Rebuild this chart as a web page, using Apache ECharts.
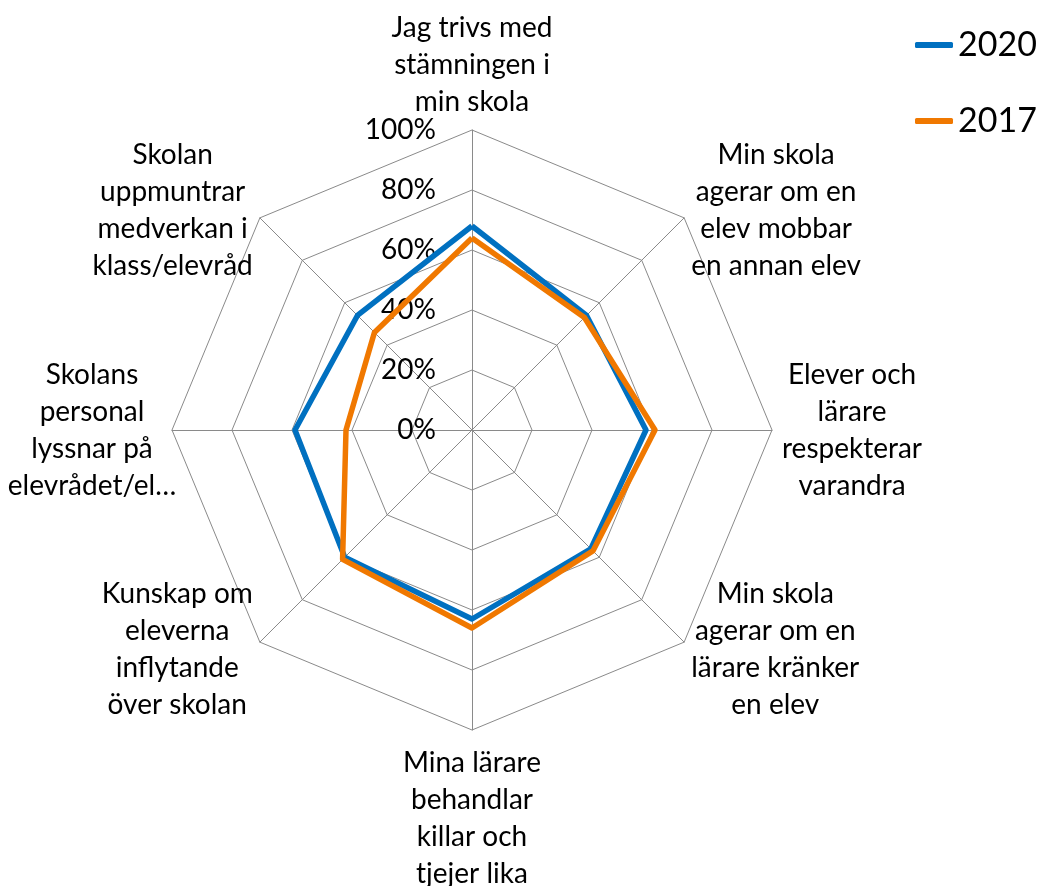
<!DOCTYPE html>
<html>
<head>
<meta charset="utf-8">
<script src="https://cdn.jsdelivr.net/npm/echarts@6/dist/echarts.min.js"></script>
<style>
html,body{margin:0;padding:0;background:#fff;}
#chart{width:1038px;height:886px;}
</style>
</head>
<body>
<div id="chart"></div>
<script>
// Categories in clockwise order starting at the top
const categories = [
  "Jag trivs med\nstämningen i\nmin skola",
  "Min skola\nagerar om en\nelev mobbar\nen annan elev",
  "Elever och\nlärare\nrespekterar\nvarandra",
  "Min skola\nagerar om en\nlärare kränker\nen elev",
  "Mina lärare\nbehandlar\nkillar och\ntjejer lika",
  "Kunskap om\neleverna\ninflytande\növer skolan",
  "Skolans\npersonal\nlyssnar på\nelevrådet/el…",
  "Skolan\nuppmuntrar\nmedverkan i\nklass/elevråd"
];
const seriesNames = ["2020", "2017"];
const values2020 = [68, 54, 58, 56, 63, 60, 59, 54];
const values2017 = [64, 53, 61, 57, 66, 61, 42, 46];
const axisMax = 100;

// ECharts radar places indicators counter-clockwise; reorder to clockwise layout
const order = categories.map((_, i) => (categories.length - i) % categories.length);
const reorder = arr => order.map(i => arr[i]);

const FONT = 'Lato';
const chart = echarts.init(document.getElementById('chart'));
const indicator = reorder(categories).map((name, i) => {
  const ind = { name: name, max: axisMax, min: 0 };
  if (i === 0) {
    ind.axisLabel = {
      show: true,
      formatter: '{value}%',
      color: '#000',
      fontFamily: FONT,
      fontSize: 28,
      margin: 36
    };
  }
  return ind;
});

const nameBase = { align: 'center', fontFamily: FONT, fontSize: 28, lineHeight: 37, color: '#000' };

chart.setOption({
  animation: false,
  backgroundColor: '#fff',
  legend: {
    orient: 'vertical',
    left: 910,
    top: 20,
    itemWidth: 38,
    itemHeight: 6,
    itemGap: 36,
    icon: 'roundRect',
    textStyle: { fontFamily: FONT, fontSize: 34, color: '#000', lineHeight: 40 },
    data: seriesNames
  },
  radar: {
    center: [472, 430],
    radius: 300,
    startAngle: 90,
    splitNumber: 5,
    shape: 'polygon',
    nameGap: 10,
    axisName: {
      color: '#000',
      fontFamily: FONT,
      fontSize: 28,
      formatter: function (name) {
        const idx = categories.indexOf(name);
        let tag = 'c';
        if (idx === 4) tag = 'b';       // bottom label sits a little lower
        else if (idx === 6) tag = 'l';  // left label hugs the axis end
        return name.split('\n').map(l => '{' + tag + '|' + l + '}').join('\n');
      },
      rich: {
        c: nameBase,
        b: Object.assign({}, nameBase, { padding: [8, 0, 0, 0] }),
        l: Object.assign({}, nameBase, { width: 140 })
      }
    },
    axisLine: { lineStyle: { color: '#8a8a8a', width: 1 } },
    splitLine: { lineStyle: { color: '#8a8a8a', width: 1 } },
    splitArea: { show: false },
    axisTick: { show: false },
    axisLabel: { show: false },
    indicator: indicator
  },
  series: [{
    type: 'radar',
    symbol: 'none',
    data: [
      {
        name: seriesNames[0],
        value: reorder(values2020),
        lineStyle: { color: '#0070C0', width: 5.5 },
        itemStyle: { color: '#0070C0' }
      },
      {
        name: seriesNames[1],
        value: reorder(values2017),
        lineStyle: { color: '#F07800', width: 5.5 },
        itemStyle: { color: '#F07800' }
      }
    ]
  }]
});
</script>
</body>
</html>
